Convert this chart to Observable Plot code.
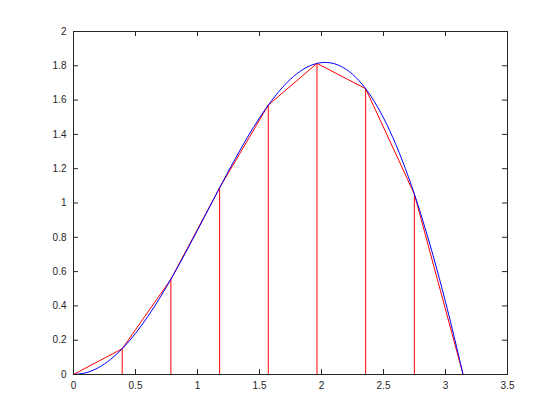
<!DOCTYPE html>
<html>
<head>
<meta charset="utf-8">
<script src="https://cdn.jsdelivr.net/npm/d3@7"></script>
<script src="https://cdn.jsdelivr.net/npm/@observablehq/plot@0.6"></script>
<style>
  html, body { margin: 0; padding: 0; background: #fff; }
</style>
</head>
<body>
<div id="chart"></div>
<script>
// Smooth curve (blue)
const curveX = [0, 0.1, 0.2, 0.3, 0.4, 0.5, 0.6, 0.7, 0.8, 0.9, 1.0, 1.1, 1.2, 1.3, 1.4, 1.5, 1.6, 1.7, 1.8, 1.9, 2.0, 2.1, 2.2, 2.3, 2.4, 2.5, 2.6, 2.7, 2.8, 2.9, 3.0, 3.1, 3.1416];
const curveY = [0, 0.0100, 0.0397, 0.0887, 0.1558, 0.2397, 0.3388, 0.4510, 0.5739, 0.7050, 0.8415, 0.9803, 1.1185, 1.2526, 1.3796, 1.4962, 1.5993, 1.6858, 1.7529, 1.7980, 1.8186, 1.8127, 1.7787, 1.7151, 1.6211, 1.4962, 1.3403, 1.1539, 0.9380, 0.6938, 0.4234, 0.1289, 0];

// Trapezoid nodes (red)
const nodeX = [0, 0.3927, 0.7854, 1.1781, 1.5708, 1.9635, 2.3562, 2.7489, 3.1416];
const nodeY = [0, 0.1503, 0.5554, 1.0884, 1.5708, 1.8140, 1.6661, 1.0520, 0];

// Tick values
const xTicks = [0, 0.5, 1, 1.5, 2, 2.5, 3, 3.5];
const yTicks = [0, 0.2, 0.4, 0.6, 0.8, 1, 1.2, 1.4, 1.6, 1.8, 2];

const curve = curveX.map((x, i) => ({x, y: curveY[i]}));
const nodes = nodeX.map((x, i) => ({x, y: nodeY[i]}));

const W = 560, H = 420;
const mL = 73, mR = 53, mT = 31, mB = 46;
const pw = W - mL - mR, ph = H - mT - mB;
const tk = 5;
const font = "Liberation Sans, Arial, Helvetica, sans-serif";

const chart = Plot.plot({
  width: W,
  height: H,
  marginLeft: mL,
  marginRight: mR,
  marginTop: mT,
  marginBottom: mB,
  style: {fontFamily: font, fontSize: "10px", background: "#fff", color: "#262626"},
  x: {domain: [0, 3.5]},
  y: {domain: [0, 2]},
  marks: [
    // Red vertical lines at interior nodes
    Plot.ruleX(nodes.slice(1, -1), {x: "x", y1: 0, y2: "y", stroke: "#ff0000", strokeWidth: 1}),
    // Red polyline
    Plot.line(nodes, {x: "x", y: "y", stroke: "#ff0000", strokeWidth: 1}),
    // Blue curve
    Plot.line(curve, {x: "x", y: "y", stroke: "#0000ff", strokeWidth: 1, curve: "catmull-rom"}),
    // Frame
    Plot.frame({stroke: "#262626", strokeWidth: 1}),
    // Inward ticks: bottom, top
    Plot.ruleX(xTicks, {x: d => d, insetTop: ph - tk, stroke: "#262626"}),
    Plot.ruleX(xTicks, {x: d => d, insetBottom: ph - tk, stroke: "#262626"}),
    // Inward ticks: left, right
    Plot.ruleY(yTicks, {y: d => d, insetRight: pw - tk, stroke: "#262626"}),
    Plot.ruleY(yTicks, {y: d => d, insetLeft: pw - tk, stroke: "#262626"}),
    Plot.axisX({ticks: xTicks, tickSize: 0, tickPadding: 7, tickFormat: d => String(d), fill: "#262626", fontSize: 10, label: null}),
    Plot.axisY({ticks: yTicks, tickSize: 0, tickPadding: 7, tickFormat: d => String(d), fill: "#262626", fontSize: 10, label: null})
  ]
});

document.getElementById("chart").appendChild(chart);
</script>
</body>
</html>
